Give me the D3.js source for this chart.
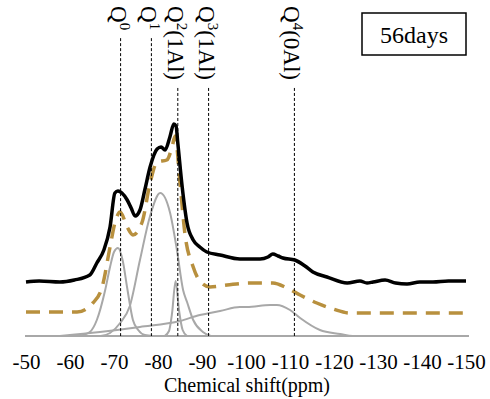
<!DOCTYPE html>
<html>
<head>
<meta charset="utf-8">
<script src="https://cdn.jsdelivr.net/npm/d3@7"></script>
<style>
  html, body { margin: 0; padding: 0; background: #fff; }
  svg { display: block; font-family: "Liberation Serif", "Times New Roman", serif; }
</style>
</head>
<body>
<div id="chart"></div>
<script>
// Chemical shift ticks (ppm)
const ppmTicks = [-50, -60, -70, -80, -90, -100, -110, -120, -130, -140, -150];

// Reference lines and their labels
const refPpm = [-71.5, -78.5, -84.5, -91.5, -111];
const refSup = ["0", "1", "2", "3", "4"];
const refTail = ["", "", "(1Al)", "(1Al)", "(0Al)"];

// Measured spectrum (offset), arbitrary units
const expPpm = [-50, -53, -57.7, -61, -64.5, -66.1, -67.7, -69.1, -70.2, -70.9, -71.8, -73.0, -73.9, -74.8, -75.9, -77.0,
  -78.2, -79.8, -80.7, -81.6, -82.7, -83.6, -84.1, -84.5, -85.5, -86.6, -88.0, -89.5, -91.1, -94.1, -98.6, -103.2,
  -105.0, -106.1, -107.3, -108.4, -111.1, -113.4, -115.2, -118.4, -123.0, -125.9, -127.5, -128.9, -131.6, -134,
  -136.6, -139.5, -142.5, -146, -150];
const expVal = [54, 55, 54, 56, 61, 73, 86, 109, 143, 145, 143, 136, 128, 120, 126, 146,
  169, 187, 189, 186, 199, 212, 210, 193, 149, 113, 96, 89, 84, 81, 77, 77,
  79, 82, 80, 78, 76, 70, 64, 59, 53, 55, 53, 54, 56, 53,
  52, 54, 54, 55, 55];

// Fitted sum (offset)
const fitPpm = [-50, -61.6, -65.2, -67.3, -69.1, -70.2, -71.4, -73.0, -74.3, -76.4, -78.2, -79.8, -82.0, -83.2, -83.9,
  -85.0, -86.1, -88.0, -89.5, -91.8, -95.7, -100.9, -106.1, -109.3, -112.3, -116.1, -119.8, -123.6, -150];
const fitVal = [24, 24, 33, 49, 89, 113, 124, 109, 101, 114, 153, 174, 176, 189, 200,
  153, 103, 69, 55, 49, 51, 53, 53, 48, 41, 33, 27, 23, 23];

// Deconvoluted components
const q0Ppm = [-62, -64.5, -66.1, -68.0, -69.1, -70.0, -70.9, -72.0, -73.0, -74.3, -75.5, -77, -79];
const q0Val = [0, 4, 16, 46, 69, 84, 88, 75, 48, 16, 6, 1, 0];

const q1Ppm = [-67, -69.1, -71.4, -73.6, -75.9, -78.2, -80.5, -82.7, -84.3, -85.7, -86.6, -88.0, -90.2, -92];
const q1Val = [0, 3, 13, 30, 76, 120, 143, 124, 86, 46, 34, 16, 4, 0];

const q2Ppm = [-81.5, -82.5, -83.2, -84.0, -84.8, -85.6, -86.6];
const q2Val = [0, 5, 23, 55, 25, 6, 0];

const q4Ppm = [-57.7, -66.8, -75.9, -85, -89.5, -91.8, -94.1, -98.6, -100.2, -105.5, -107.0, -110, -112.3, -116.8,
  -121.4, -124.3, -150];
const q4Val = [0, 4, 9, 15, 21, 23, 25, 29, 29, 31, 31, 26, 18, 6, 2, 0, 0];

const boxLabel = "56days";

const width = 490, height = 399;
const svg = d3.select("#chart").append("svg")
  .attr("width", width)
  .attr("height", height);

const x = d3.scaleLinear().domain([-50, -150]).range([26, 466]);
const y = d3.scaleLinear().domain([0, 250]).range([336, 86]);

const zip = (xs, ys) => xs.map((p, i) => [p, ys[i]]);
const line = d3.line()
  .x(d => x(d[0]))
  .y(d => y(d[1]))
  .curve(d3.curveMonotoneX);

// Components
[[q0Ppm, q0Val], [q1Ppm, q1Val], [q2Ppm, q2Val], [q4Ppm, q4Val]].forEach(([p, v]) => {
  svg.append("path")
    .attr("d", line(zip(p, v)))
    .attr("fill", "none")
    .attr("stroke", "#a8a8a8")
    .attr("stroke-width", 2);
});

// x axis (plain hyphen minus like the original)
const axis = svg.append("g")
  .attr("transform", `translate(0,${y(0)})`)
  .call(d3.axisBottom(x).tickValues(ppmTicks).tickFormat(d => String(d))
    .tickSize(0).tickSizeOuter(0).tickPadding(18));
axis.select(".domain")
  .attr("stroke", "#a8a8a8")
  .attr("stroke-width", 2)
  .attr("d", `M${x(-50) - 1},0H${x(-150) + 3}`);
axis.selectAll("text")
  .attr("font-family", "Liberation Serif, Times New Roman, serif")
  .attr("font-size", 21)
  .attr("fill", "#000");

svg.append("text")
  .attr("x", 247)
  .attr("y", 392)
  .attr("text-anchor", "middle")
  .attr("font-size", 20)
  .text("Chemical shift(ppm)");

// Fit and experimental curves
svg.append("path")
  .attr("d", line(zip(fitPpm, fitVal)))
  .attr("fill", "none")
  .attr("stroke", "#b8903e")
  .attr("stroke-width", 3.5)
  .attr("stroke-dasharray", "14,9");

svg.append("path")
  .attr("d", line(zip(expPpm, expVal)))
  .attr("fill", "none")
  .attr("stroke", "#000")
  .attr("stroke-width", 3.5)
  .attr("stroke-linejoin", "round");

// Reference lines with rotated labels
refPpm.forEach((p, i) => {
  const lx = x(p);
  const label = svg.append("text")
    .attr("transform", `translate(${lx - 10},6) rotate(90)`)
    .attr("font-size", 23);
  label.append("tspan").text("Q");
  label.append("tspan").attr("font-size", 15).attr("dy", -9).text(refSup[i]);
  if (refTail[i]) label.append("tspan").attr("dy", 9).text(refTail[i]);
  const len = label.node().getComputedTextLength();
  svg.append("line")
    .attr("x1", lx).attr("x2", lx)
    .attr("y1", 6 + len + 8).attr("y2", y(0))
    .attr("stroke", "#000")
    .attr("stroke-width", 1)
    .attr("stroke-dasharray", "3,2");
});

// Sample label box
svg.append("rect")
  .attr("x", 362).attr("y", 13)
  .attr("width", 104).attr("height", 42)
  .attr("fill", "#fff")
  .attr("stroke", "#000")
  .attr("stroke-width", 1.5);
svg.append("text")
  .attr("x", 414).attr("y", 43)
  .attr("text-anchor", "middle")
  .attr("font-size", 24)
  .text(boxLabel);
</script>
</body>
</html>
